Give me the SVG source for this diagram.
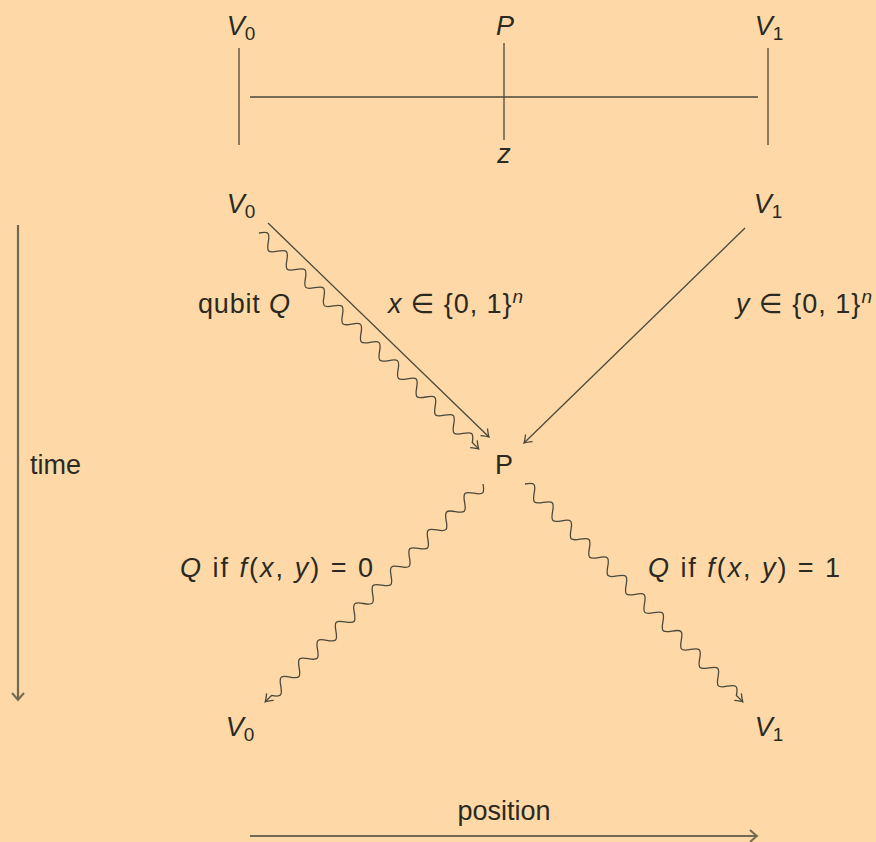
<svg xmlns="http://www.w3.org/2000/svg" width="876" height="842" viewBox="0 0 876 842">
<defs>
<style>
text{font-family:"Liberation Sans","DejaVu Sans",sans-serif;font-size:27px;fill:#2a2a22}
.it{font-style:italic}
.sub{font-size:19px}
.ln{stroke:#4a4a3c;stroke-width:1.3;fill:none}
.ax{stroke:#716a52;stroke-width:2.2;fill:none}
</style>
<marker id="arr" markerUnits="userSpaceOnUse" viewBox="-10 -7 12 14" refX="0" refY="0" markerWidth="12" markerHeight="14" orient="auto">
<path d="M-7,-5 Q-2,-1 0,0 Q-2,1 -7,5" fill="none" stroke="#4a4a3c" stroke-width="1.3"/>
</marker>
<marker id="arrAx" markerUnits="userSpaceOnUse" viewBox="-10 -7 12 14" refX="0" refY="0" markerWidth="12" markerHeight="14" orient="auto">
<path d="M-7,-6 Q-2,-1.5 0,0 Q-2,1.5 -7,6" fill="none" stroke="#716a52" stroke-width="2"/>
</marker>
<path id="wave" d="M0,0 c5.5,-8 7.5,-8 13,0 s7.5,8 13,0 s7.5,-8 13,0 s7.5,8 13,0 s7.5,-8 13,0 s7.5,8 13,0 s7.5,-8 13,0 s7.5,8 13,0 s7.5,-8 13,0 s7.5,8 13,0 s7.5,-8 13,0 s7.5,8 13,0 s7.5,-8 13,0 s7.5,8 13,0 s7.5,-8 13,0 s7.5,8 13,0 s7.5,-8 13,0 s7.5,8 13,0 s7.5,-8 13,0 s7.5,8 13,0 s7.5,-8 13,0 s7.5,8 13,0 s7.5,-8 13,0 l9,0"/>
</defs>
<rect width="876" height="842" fill="#FED8A7"/>

<g id="top-line">
<line class="ln" x1="239" y1="48" x2="239" y2="145"/>
<line class="ln" x1="504" y1="43" x2="504" y2="140"/>
<line class="ln" x1="768" y1="48" x2="768" y2="145"/>
<line class="ln" x1="250" y1="97" x2="758" y2="97"/>
</g>
<g id="top-V0"><text x="241" y="35" text-anchor="middle"><tspan class="it">V</tspan><tspan class="sub" dy="5">0</tspan></text></g>
<g id="top-P"><text x="505" y="35" text-anchor="middle" class="it">P</text></g>
<g id="top-V1"><text x="769" y="35" text-anchor="middle"><tspan class="it">V</tspan><tspan class="sub" dy="5">1</tspan></text></g>
<g id="top-z"><text x="504" y="163" text-anchor="middle" class="it">z</text></g>

<g id="node-V0"><text x="241" y="213" text-anchor="middle"><tspan class="it">V</tspan><tspan class="sub" dy="5">0</tspan></text></g>
<g id="node-V1"><text x="768" y="213" text-anchor="middle"><tspan class="it">V</tspan><tspan class="sub" dy="5">1</tspan></text></g>
<g id="node-P"><text x="504" y="474" text-anchor="middle">P</text></g>
<g id="node-V0-end"><text x="240" y="736" text-anchor="middle"><tspan class="it">V</tspan><tspan class="sub" dy="5">0</tspan></text></g>
<g id="node-V1-end"><text x="769" y="736" text-anchor="middle"><tspan class="it">V</tspan><tspan class="sub" dy="5">1</tspan></text></g>

<g id="connectors">
<line class="ln" x1="268" y1="223" x2="489" y2="437" marker-end="url(#arr)"/>
<line class="ln" x1="745" y1="228" x2="524" y2="443" marker-end="url(#arr)"/>
<use href="#wave" class="ln" transform="translate(259,233) rotate(44.5)" marker-end="url(#arr)"/>
<use href="#wave" class="ln" transform="translate(483,484) rotate(135)" marker-end="url(#arr)"/>
<use href="#wave" class="ln" transform="translate(525,484) rotate(45)" marker-end="url(#arr)"/>
<line class="ax" x1="18" y1="225" x2="18" y2="700" marker-end="url(#arrAx)"/>
<line class="ax" x1="250" y1="836" x2="757" y2="836" marker-end="url(#arrAx)"/>
</g>

<g id="labels">
<text x="198" y="313" textLength="92" lengthAdjust="spacing">qubit <tspan class="it">Q</tspan></text>
<text x="388" y="313" textLength="135" lengthAdjust="spacing"><tspan class="it">x</tspan> ∈ {0, 1}<tspan class="sub it" dy="-10">n</tspan></text>
<text x="736" y="313" textLength="136" lengthAdjust="spacing"><tspan class="it">y</tspan> ∈ {0, 1}<tspan class="sub it" dy="-10">n</tspan></text>
<text x="180" y="577" textLength="193" lengthAdjust="spacing"><tspan class="it">Q</tspan> if <tspan class="it">f</tspan>(<tspan class="it">x</tspan>, <tspan class="it">y</tspan>) = 0</text>
<text x="648" y="577" textLength="192" lengthAdjust="spacing"><tspan class="it">Q</tspan> if <tspan class="it">f</tspan>(<tspan class="it">x</tspan>, <tspan class="it">y</tspan>) = 1</text>
<text x="30" y="474">time</text>
<text x="504" y="820" text-anchor="middle">position</text>
</g>
</svg>
